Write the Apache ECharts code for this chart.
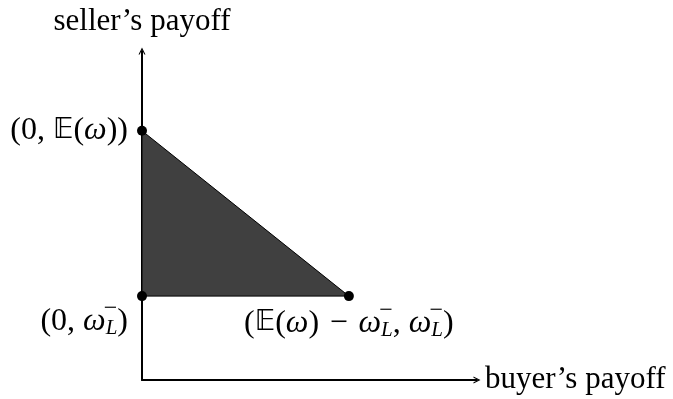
<!DOCTYPE html>
<html>
<head>
<meta charset="utf-8">
<script src="https://cdn.jsdelivr.net/npm/echarts@6/dist/echarts.min.js"></script>
<style>
  html, body { margin: 0; padding: 0; background: #fff; }
  #main { width: 673px; height: 399px; }
</style>
</head>
<body>
<div id="main"></div>
<script>
// corners of the shaded region (buyer's payoff, seller's payoff)
var regionX = [0, 2.47, 0];
var regionY = [3.03, 1.02, 1.02];
// the three marked points: top, lower-right, lower-left
var pointX = [0, 2.47, 0];
var pointY = [3.03, 1.02, 1.02];
var xName = 'buyer\u2019s payoff';
var yName = 'seller\u2019s payoff';

var FONT = 'Liberation Serif';
var chart = echarts.init(document.getElementById('main'), null, { renderer: 'canvas' });

var region = [];
for (var i = 0; i < regionX.length; i++) region.push([regionX[i], regionY[i]]);
var points = [];
for (var i = 0; i < pointX.length; i++) points.push([pointX[i], pointY[i]]);

// math style rich text pieces
var rich = {
  it: { color: '#000', fontStyle: 'italic', fontFamily: FONT, fontSize: 32, lineHeight: 40 },
  bb: { color: '#000', fontFamily: 'DejaVu Sans', fontSize: 28, lineHeight: 40 },
  sub: { color: '#000', fontStyle: 'italic', fontFamily: FONT, fontSize: 21, verticalAlign: 'bottom', lineHeight: 40, height: 25 },
  // superscript minus drawn over the subscript (zero width, right aligned)
  sup: { color: '#000', fontFamily: FONT, fontSize: 24, verticalAlign: 'top', align: 'right', width: 0, height: 15 },
  r: { color: '#000', fontFamily: FONT, fontSize: 32, align: 'right', lineHeight: 40 },
  rit: { color: '#000', fontStyle: 'italic', fontFamily: FONT, fontSize: 32, align: 'right', lineHeight: 40 },
  rsub: { color: '#000', fontStyle: 'italic', fontFamily: FONT, fontSize: 21, verticalAlign: 'bottom', align: 'right', lineHeight: 40, height: 25 }
};

var labelTop = '(0, {bb|\uD835\uDD3C}({it|\u03C9}))';
var labelRight = '({bb|\uD835\uDD3C}({it|\u03C9})\u2004\u2212\u2004{it|\u03C9}{sub|L}{sup|\u2212}{r|, }{rit|\u03C9}{rsub|L}{sup|\u2212}{r|)}';
var labelLeft = '(0, {it|\u03C9}{sub|L}{sup|\u2212}{r|)}';

var arrowPath = 'path://M0,10 L5,0 L10,10 L8.3,10 L5,3.2 L1.7,10 Z';

var option = {
  animation: false,
  grid: { left: 142, right: 196, top: 51, bottom: 19 },
  xAxis: {
    type: 'value', min: 0, max: 4,
    name: xName, nameLocation: 'end', nameGap: 8,
    nameTextStyle: { fontFamily: FONT, fontSize: 31, color: '#000', verticalAlign: 'middle', align: 'left', padding: [0, 0, 2, 0] },
    axisLine: { show: true, onZero: false, lineStyle: { color: '#000', width: 2 }, symbol: ['none', arrowPath], symbolSize: [13, 7] },
    axisTick: { show: false }, axisLabel: { show: false }, splitLine: { show: false }
  },
  yAxis: {
    type: 'value', min: 0, max: 4,
    name: yName, nameLocation: 'end', nameGap: 14,
    nameTextStyle: { fontFamily: FONT, fontSize: 31, color: '#000', align: 'center' },
    axisLine: { show: true, onZero: false, lineStyle: { color: '#000', width: 2 }, symbol: ['none', arrowPath], symbolSize: [13, 7] },
    axisTick: { show: false }, axisLabel: { show: false }, splitLine: { show: false }
  },
  series: [
    {
      type: 'custom',
      silent: true,
      data: region,
      renderItem: function (params, api) {
        if (params.dataIndex !== 0) return null;
        var pts = region.map(function (p) { return api.coord(p); });
        return {
          type: 'polygon',
          shape: { points: pts },
          style: { fill: '#404040', stroke: '#000', lineWidth: 1 }
        };
      },
      z: 2
    },
    {
      type: 'scatter',
      symbol: 'circle',
      symbolSize: 10,
      itemStyle: { color: '#000', opacity: 1 },
      z: 5,
      label: { show: true, color: '#000', fontFamily: FONT, fontSize: 32, lineHeight: 40, rich: rich },
      data: [
        { value: points[0], label: { position: 'left', distance: 9, formatter: labelTop } },
        { value: points[1], label: { position: 'bottom', distance: 2, formatter: labelRight } },
        { value: points[2], label: { position: 'left', distance: 9, offset: [0, 25], formatter: labelLeft } }
      ]
    }
  ]
};
chart.setOption(option);
</script>
</body>
</html>
